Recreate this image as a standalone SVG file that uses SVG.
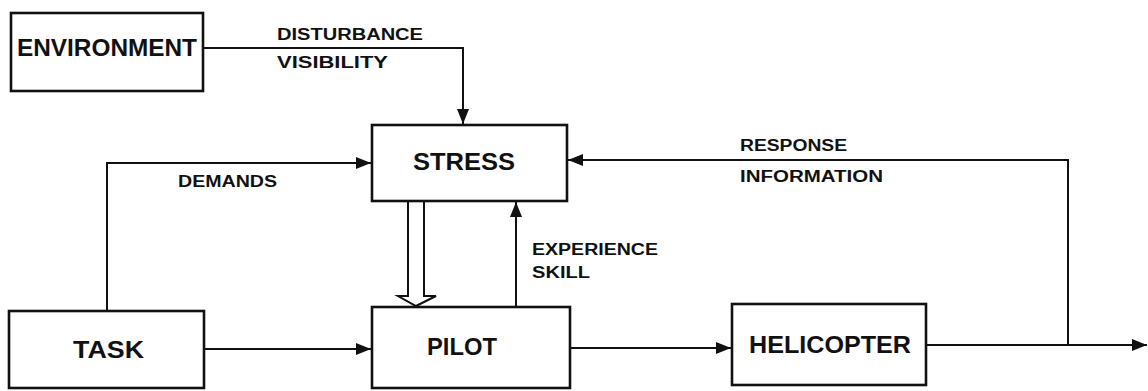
<svg xmlns="http://www.w3.org/2000/svg" width="1148" height="391" viewBox="0 0 1148 391">
  <style>
    .box { fill: #fff; stroke: #111; stroke-width: 2.6; }
    .node { font-family: "Liberation Sans", Arial, sans-serif; font-weight: bold; font-size: 24px; fill: #111; }
    .lbl { font-family: "Liberation Sans", Arial, sans-serif; font-weight: bold; font-size: 16px; fill: #111; }
    .edge { fill: none; stroke: #111; stroke-width: 2; }
  </style>
  <defs>
    <marker id="arr" markerUnits="userSpaceOnUse" markerWidth="16" markerHeight="14" refX="15" refY="7" orient="auto">
      <path d="M0,1 L15,7 L0,13 Z" fill="#111"/>
    </marker>
  </defs>
  <rect width="1148" height="391" fill="#fff"/>

  <g id="connectors">
    <path class="edge" d="M203,48 H463 V124" marker-end="url(#arr)"/>
    <path class="edge" d="M107,311 V163 H371" marker-end="url(#arr)"/>
    <path class="edge" d="M204,349 H371" marker-end="url(#arr)"/>
    <path class="edge" d="M570,348 H731" marker-end="url(#arr)"/>
    <path class="edge" d="M926,345 H1147" marker-end="url(#arr)"/>
    <path class="edge" d="M1068,345 V160 H568" marker-end="url(#arr)"/>
    <path class="edge" d="M516,307 V202" marker-end="url(#arr)"/>
    <path d="M408,202 V296 H398 L416,306 L436,296 H424 V202" fill="#fff" stroke="#111" stroke-width="2"/>
    <text class="lbl" x="277" y="40" textLength="146" lengthAdjust="spacingAndGlyphs">DISTURBANCE</text>
    <text class="lbl" x="277" y="68" textLength="111" lengthAdjust="spacingAndGlyphs">VISIBILITY</text>
    <text class="lbl" x="178" y="187" textLength="99" lengthAdjust="spacingAndGlyphs">DEMANDS</text>
    <text class="lbl" x="740" y="151" textLength="107" lengthAdjust="spacingAndGlyphs">RESPONSE</text>
    <text class="lbl" x="740" y="182" textLength="143" lengthAdjust="spacingAndGlyphs">INFORMATION</text>
    <text class="lbl" x="532" y="255" textLength="126" lengthAdjust="spacingAndGlyphs">EXPERIENCE</text>
    <text class="lbl" x="532" y="278" textLength="58" lengthAdjust="spacingAndGlyphs">SKILL</text>
  </g>

  <g id="environment">
    <rect class="box" x="11" y="13" width="192" height="78"/>
    <text class="node" x="17" y="56" font-size="22" textLength="180" lengthAdjust="spacingAndGlyphs">ENVIRONMENT</text>
  </g>
  <g id="stress">
    <rect class="box" x="372" y="125" width="195" height="76"/>
    <text class="node" x="413" y="170" textLength="102" lengthAdjust="spacingAndGlyphs">STRESS</text>
  </g>
  <g id="task">
    <rect class="box" x="9" y="311" width="195" height="77"/>
    <text class="node" x="73" y="358" textLength="71" lengthAdjust="spacingAndGlyphs">TASK</text>
  </g>
  <g id="pilot">
    <rect class="box" x="372" y="307" width="198" height="81"/>
    <text class="node" x="427" y="355" textLength="70" lengthAdjust="spacingAndGlyphs">PILOT</text>
  </g>
  <g id="helicopter">
    <rect class="box" x="732" y="304" width="194" height="81"/>
    <text class="node" x="749" y="353" textLength="162" lengthAdjust="spacingAndGlyphs">HELICOPTER</text>
  </g>
</svg>
